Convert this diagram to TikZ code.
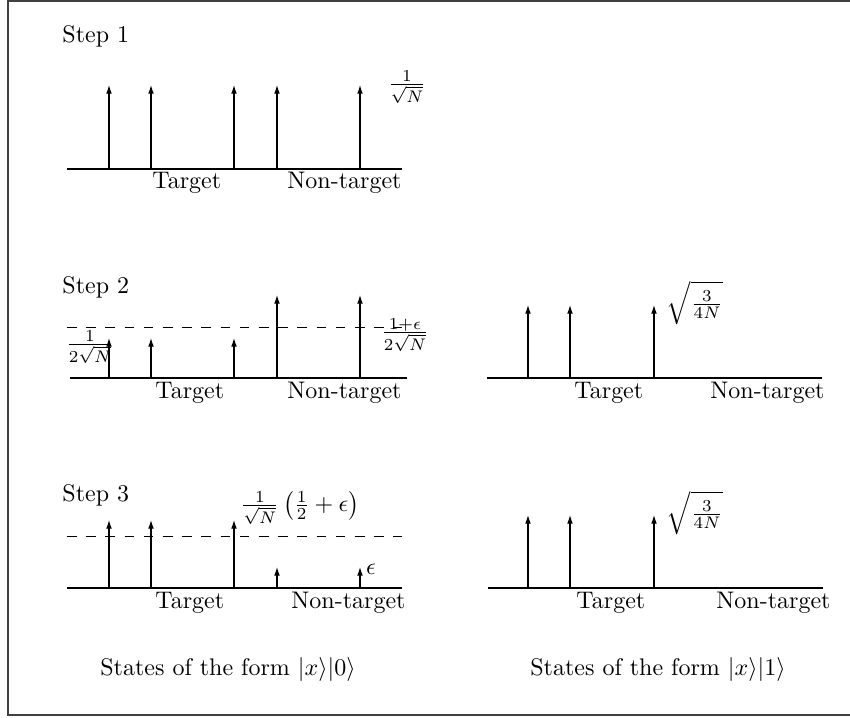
\documentclass[tikz,border=0pt]{standalone}
\usetikzlibrary{arrows.meta}
\begin{document}
\begin{tikzpicture}[x=0.41667pt,y=-0.41667pt,
  axis/.style={line width=0.9pt},
  stem/.style={-{Latex[length=3.6pt,width=2.4pt]}, line width=0.45pt},
  guide/.style={dash pattern=on 4pt off 4pt, line width=0.4pt},
  lbl/.style={inner sep=0pt}]
\useasboundingbox (0,0) rectangle (850,717);
\draw[line width=0.7pt, black!75] (8,1) rectangle (880,715);

% ---------- Step 1 ----------
\node[lbl, anchor=base west] (s1) at (62,42) {Step 1};
\coordinate (a1l) at (67,169); \coordinate (a1r) at (402,169);
\draw[axis] (a1l) -- (a1r);
\foreach \i/\x in {1/109,2/151,3/234,4/277,5/360}{
  \coordinate (p1b\i) at (\x,169); \coordinate (p1t\i) at (\x,85);
  \draw[stem] (p1b\i) -- (p1t\i);}
\node[lbl] (v1) at (407,87) {$\frac{1}{\sqrt{N}}$};
\node[lbl, anchor=base west] (t1) at (152,188) {Target};
\node[lbl, anchor=base east] (n1) at (402,188) {Non-target};

% ---------- Step 2 left ----------
\node[lbl, anchor=base west] (s2) at (62,293) {Step 2};
\coordinate (a2l) at (70,378); \coordinate (a2r) at (407,378);
\draw[axis] (a2l) -- (a2r);
\coordinate (d2l) at (67,327); \coordinate (d2r) at (402,327);
\draw[guide] (d2l) -- (d2r);
\foreach \i/\x/\y in {1/109/338,2/151/338,3/234/338,4/277/295,5/360/295}{
  \coordinate (p2b\i) at (\x,378); \coordinate (p2t\i) at (\x,\y);
  \draw[stem] (p2b\i) -- (p2t\i);}
\node[lbl] (v2a) at (90,347) {$\frac{1}{2\sqrt{N}}$};
\node[lbl] (v2b) at (405,335) {$\frac{1+\epsilon}{2\sqrt{N}}$};
\node[lbl, anchor=base west] (t2) at (155,398) {Target};
\node[lbl, anchor=base east] (n2) at (402,398) {Non-target};

% ---------- Step 2 right ----------
\coordinate (b2l) at (487,378); \coordinate (b2r) at (822,378);
\draw[axis] (b2l) -- (b2r);
\foreach \i/\x in {1/528,2/570,3/654}{
  \coordinate (q2b\i) at (\x,378); \coordinate (q2t\i) at (\x,305);
  \draw[stem] (q2b\i) -- (q2t\i);}
\node[lbl] (w2) at (695,303) {$\sqrt{\frac{3}{4N}}$};
\node[lbl, anchor=base west] (u2) at (574,398) {Target};
\node[lbl, anchor=base east] (m2) at (825,398) {Non-target};

% ---------- Step 3 left ----------
\node[lbl, anchor=base west] (s3) at (62,501) {Step 3};
\coordinate (a3l) at (67,588); \coordinate (a3r) at (402,588);
\draw[axis] (a3l) -- (a3r);
\coordinate (d3l) at (67,536); \coordinate (d3r) at (402,536);
\draw[guide] (d3l) -- (d3r);
\foreach \i/\x/\y in {1/109/520,2/151/520,3/234/520,4/277/567,5/360/567}{
  \coordinate (p3b\i) at (\x,588); \coordinate (p3t\i) at (\x,\y);
  \draw[stem] (p3b\i) -- (p3t\i);}
\node[lbl] (v3a) at (300,508) {$\frac{1}{\sqrt{N}}\left(\frac{1}{2}+\epsilon\right)$};
\node[lbl] (v3b) at (371,569) {$\epsilon$};
\node[lbl, anchor=base west] (t3) at (155,608) {Target};
\node[lbl, anchor=base east] (n3) at (406,608) {Non-target};

% ---------- Step 3 right ----------
\coordinate (b3l) at (488,588); \coordinate (b3r) at (823,588);
\draw[axis] (b3l) -- (b3r);
\foreach \i/\x in {1/528,2/570,3/654}{
  \coordinate (q3b\i) at (\x,588); \coordinate (q3t\i) at (\x,515);
  \draw[stem] (q3b\i) -- (q3t\i);}
\node[lbl] (w3) at (695,513) {$\sqrt{\frac{3}{4N}}$};
\node[lbl, anchor=base west] (u3) at (576,608) {Target};
\node[lbl, anchor=base east] (m3) at (831,608) {Non-target};

% ---------- captions ----------
\node[lbl] (c0) at (228,669) {States of the form $|x\rangle|0\rangle$};
\node[lbl] (c1) at (658,669) {States of the form $|x\rangle|1\rangle$};
\end{tikzpicture}
\end{document}
